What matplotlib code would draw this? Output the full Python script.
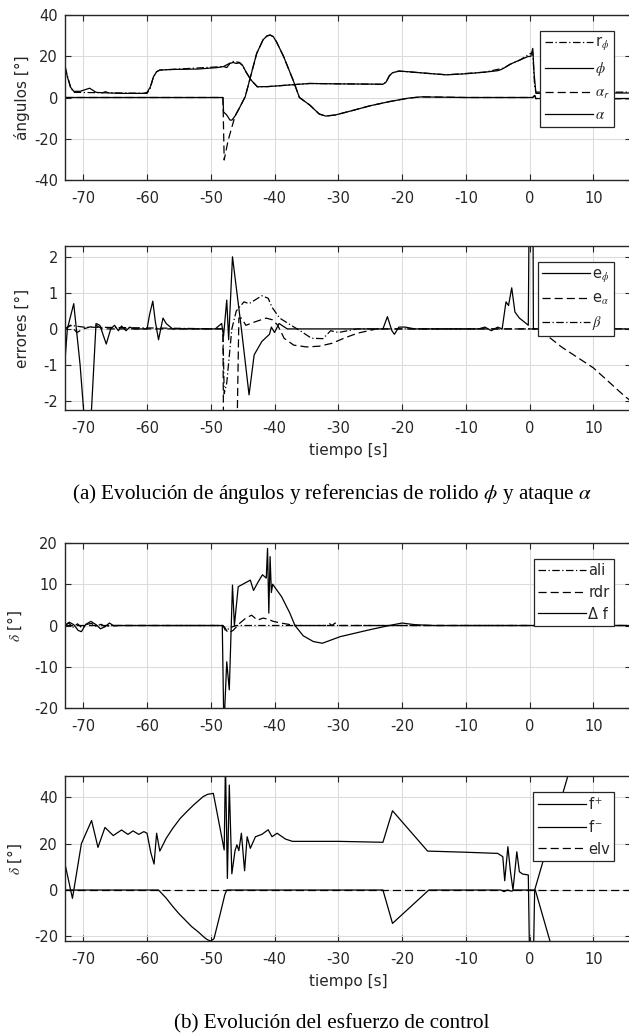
import matplotlib
matplotlib.use("Agg")
import matplotlib.pyplot as plt

plt.rcParams['font.family'] = ['DejaVu Sans']
plt.rcParams['mathtext.fontset'] = 'stix'
plt.rcParams['axes.unicode_minus'] = False

# ---- angles panel ----
t_phi = [-72.9, -72.5, -72, -71.5, -70.5, -69.5, -69, -68.5, -68, -67, -66.5, -66, -64, -60.5, -60, -59.5, -59,
         -58.5, -58, -56, -52, -49, -48, -47.5, -47, -46.5, -46, -45.5, -45, -44.5, -43.7, -42.7, -41, -38, -34.5,
         -30, -25, -23, -22.5, -22, -21.5, -20.5, -19, -16, -13, -10, -7, -5, -4.5, -4, -3, -1.5, -0.3, 0.2, 0.5,
         0.7, 1.0, 15.9]
phi = [16, 10, 5, 3, 3, 4, 4.5, 3.5, 2.5, 2.3, 2.8, 2.2, 2, 2, 2.5, 5, 10,
       12.5, 13.3, 13.6, 13.8, 14.5, 15, 14.5, 16.5, 17, 16.5, 16.8, 15.5, 12.5, 8.5, 5.2, 5.3, 6, 6.8,
       6.6, 6.5, 6.4, 7.5, 10.5, 12, 12.8, 12.5, 11.7, 11, 11.5, 12.3, 13, 13.5, 14.3, 16.2, 18.2, 19.8, 20, 23.8,
       12, 2, 2.2]

t_rphi = [-72.9, -72, -71.5, -60, -59.5, -59, -58.5, -58, -48, -46.5, -45.5, -45, -44.5, -43.7, -42.7, -41, -34.5,
          -23, -22.5, -22, -21.5, -20.5, -16, -13, -7, -4, -3, -1.5, -0.3, 0.5, 0.8, 1.0, 15.9]
r_phi = [15, 5, 2.5, 2, 4.5, 10, 12.5, 13.3, 15, 17.5, 17, 15.5, 12.5, 8.5, 5.2, 5.3, 6.8,
         6.4, 7.5, 10.5, 12, 12.8, 11.7, 11, 12.3, 14.3, 16.2, 18.2, 20.5, 22, 5, 2.6, 2.6]

t_alpha = [-72.9, -48.1, -48.0, -47.5, -47, -46.7, -46.2, -45.5, -44.6, -43.7, -42.8, -41.8, -41.2, -40.7, -40.2,
           -39.7, -38.6, -37.1, -36.1, -34.5, -33, -32, -30.5, -28, -25, -22, -19, -17, -10, 0.5, 0.8, 1.0, 15.9]
alpha = [0, 0, -7, -8.5, -10.9, -11, -9, -5, 0.4, 10.9, 21.4, 28, 29.8, 30.3, 29.5,
         27, 20, 8.5, 0, -3.6, -8, -9, -8.5, -6.5, -4, -2, -0.3, 0.3, 0, 0, 1, -0.5, -0.5]

t_alpha_r = [-72.9, -48.1, -47.9, -47.3, -46.2, -45.5, -44.6, -43.7, -42.8, -41.8, -41.2, -40.7, -40.2, -39.7,
             -38.6, -37.1, -36.1, -34.5, -33, -32, -30.5, -28, -25, -22, -19, -17, -10, 0.5, 0.8, 1.0, 15.9]
alpha_r = [0, 0, -30.3, -21, -9, -5, 0.4, 10.9, 21.4, 28, 29.8, 30.3, 29.5, 27,
           20, 8.5, 0, -3.6, -8, -9, -8.5, -6.5, -4, -2, -0.3, 0.3, 0, 0, 1, -0.6, -0.6]

# ---- errors panel ----
t_ephi = [-72.9, -72.5, -71.5, -70.5, -69.8, -69, -68.7, -68, -67.4, -66.4, -65.7, -65.1, -64.5, -64, -63.3, -62.7,
          -62, -60, -59.6, -59.1, -58.7, -58.2, -57.5, -57, -56, -49.3, -48.3, -48.0, -47.5, -47.2, -46.6, -45.2,
          -44.0, -43.2, -42, -40.8, -40.5, -40, -39.3, -38, -23, -22.3, -21.6, -21.2, -20.5, -19.5, -18, -8, -7,
          -6, -5, -4.3, -3.7, -3.3, -2.8, -2.3, -1.6, -0.6, -0.2, 0.0, 0.5, 0.6, 15.9]
e_phi = [-0.95, 0, 0.7, -1.0, -2.6, -2.6, -2.2, 0.15, 0.1, -0.42, 0, 0.1, -0.05, 0.08, -0.05, 0.05,
         0, 0, 0.4, 0.77, 0.2, -0.3, 0.3, 0.15, 0, 0, 0.15, -0.2, 0.8, -0.3, 2.0, 0,
         -1.83, -0.72, -0.35, -0.15, 0.05, -0.1, 0.15, 0, 0, 0.34, -0.05, -0.15, 0.05, 0.05, 0, 0, 0.05,
         -0.05, 0.05, 0, 0.75, 0.65, 1.14, 0.47, 0.3, 0.16, 0.1, 5, 5, 0, 0]

t_ealpha = [-72.9, -72, -71, -70, -68, -67, -48.1, -48.0, -45.9, -45.6, -45.2, -44.5, -43, -41.3, -40.3, -39.5,
            -38.5, -37, -35, -33, -31, -29, -27, -24, 1.0, 3, 5, 10, 15, 15.9]
e_alpha = [0, 0.1, -0.1, 0, 0.1, 0, 0, -3, -3, 0.3, 0.3, 0.1, 0.2, 0.3, 0.25, 0.1,
           -0.26, -0.45, -0.5, -0.48, -0.4, -0.25, -0.12, 0, 0, -0.22, -0.5, -1.08, -1.88, -2.0]

t_beta = [-72.9, -72, -70, -48.1, -47.9, -47.5, -46.7, -46, -44.8, -44, -42, -41, -40.4, -39.2, -37.4, -36,
          -34.2, -32.4, -31.2, -30, -27, 15.9]
beta = [0, 0.1, 0.05, 0, -1.8, -1.5, 0, 0.5, 0.75, 0.7, 0.92, 0.85, 0.6, 0.3, 0.1, -0.05,
        -0.26, -0.27, -0.05, -0.1, 0, 0]

# ---- control surfaces ----
t_df = [-72.9, -72.2, -71.5, -70.8, -70.3, -69.6, -68.8, -68.0, -67.3, -66.6, -65.9, -65.2, -64.5, -48.2, -47.95,
        -47.5, -47.1, -46.6, -46.3, -45.7, -44.4, -43.8, -43.3, -42.6, -41.9, -41.3, -41.1, -40.9, -40.7, -40.5,
        -40.3, -38.9, -37.6, -36.8, -35.5, -33.9, -32.5, -29.7, -25, -22, -20, -18, -15, 15.9]
delta_f = [0, 0.8, 0.2, -1.2, -1.5, 0.3, 1.0, 0.2, -0.8, -0.3, 0.6, -0.1, 0, 0, -25,
           -8.8, -15.6, 9.8, 0, 9.4, 10.5, 11, 8.5, 10.5, 12.3, 11.5, 18.7, 3, 16.7, 8,
           10, 7, 3, 0, -2.5, -3.9, -4.3, -2.7, -1, 0, 0.6, 0.2, 0, 0]

t_rdr = [-72.9, -48.1, -47.8, -47.3, -46.5, -45.5, -44.5, -43.6, -42.7, -41.8, -41.0, -40.2, -39.0, -37.5, -36.5,
         -32, -31.5, -31, -30.5, -30, -29.5, 15.9]
rdr = [0, 0, -0.5, -1.8, -1.2, 0.5, 1.8, 2.5, 1.3, 1.8, 1.5, 1.0, 0.6, 0.2, 0,
       0, 0.6, 0, 0.6, 0, 0, 0]

t_ali = [-72.9, -72.3, -71.6, -70.9, -70.2, -69.4, -68.7, -68, -67.2, -66.5, -65.8, -48.1, -47.7, -47.2, -46.6,
         -46, 15.9]
ali = [0, 0.6, -0.4, 0.4, -0.6, 0.3, 0.5, -0.2, 0.3, -0.4, 0, 0, -1.2, -0.8, -0.3, 0, 0]

# ---- control effort ----
t_fp = [-72.9, -72.85, -71.7, -70.3, -68.7, -67.7, -66.6, -65.3, -64.0, -63.0, -62.2, -61.3, -60.5, -60.0, -59.4,
        -58.9, -58.5, -58.0, -57.0, -56.0, -54.8, -53.7, -52.7, -51.2, -50.5, -49.6, -47.9, -47.7, -47.4, -47.1,
        -46.7, -46.2, -45.9, -45.6, -45.2, -44.7, -44.3, -43.8, -43.0, -42.0, -41.0, -40.4, -39.6, -38.3, -37.2,
        -30, -23.0, -21.5, -16.0, -10, -5, -4.2, -3.9, -3.4, -3.0, -2.6, -2.0, -1.6, -1.1, -0.2, 0.0, 0.6, 0.8, 6.3]
f_plus = [23, 11, -3.6, 20, 30, 18.4, 27, 23.5, 25.9, 24, 25.5, 24, 25.2, 24.5, 16,
          11.2, 24.5, 16.8, 22.3, 26.5, 30.9, 34, 36.7, 40.3, 41.3, 41.7, 17.3, 55, 5, 45.3,
          7, 17, 19.5, 17, 24.5, 8.3, 23, 18, 23, 24, 26, 23, 24.5, 22, 21,
          21, 20.6, 34.2, 16.8, 16.3, 15.8, 14.4, 4, 18.7, 8, 0, 16.5, 7.9, 6.9, 6.5, -30, -30, 0, 52]

t_fm = [-72.9, -58.2, -57, -56, -55, -54, -53, -52, -51, -50.5, -50, -49.5, -48.5, -47.8, -47.5, -23, -21.5,
        -15.8, -4.5, -4, -3.5, -2.8, -2.4, 0.9, 3.3, 15.9]
f_minus = [0, 0, -3.5, -7, -10.2, -13, -15.8, -18, -20.5, -21.5, -22, -21, -10, -2, 0, 0, -14.4,
           0, 0, -0.7, 0, -0.5, 0, 0, -23, -150]

t_elv = [-72.9, 15.9]
elv = [0, 0]

xticks = [-70, -60, -50, -40, -30, -20, -10, 0, 10]

dash = (0, (6.5, 3.2))
dashdot = (0, (6, 2, 1, 2))
gray = '#262626'

fig = plt.figure(figsize=(6.29, 10.34), dpi=100)


def panel(bottom_px, top_px, ylim, yticks, ylabel, label_x):
    ax = fig.add_axes([65 / 629, 1 - bottom_px / 1034, 566 / 629, (bottom_px - top_px) / 1034])
    ax.set_xlim(-72.87, 15.91)
    ax.set_ylim(*ylim)
    ax.set_xticks(xticks)
    ax.set_yticks(yticks)
    ax.grid(True, color='#dcdcdc', lw=0.8)
    ax.set_axisbelow(True)
    ax.tick_params(direction='in', top=True, right=True, labelsize=10.5, colors=gray,
                   length=4, width=0.8)
    ax.tick_params(axis='x', pad=8)
    ax.tick_params(axis='y', pad=5)
    for s in ax.spines.values():
        s.set_color(gray)
        s.set_linewidth(1.0)
    ax.set_ylabel(ylabel, fontsize=11, color=gray)
    ax.yaxis.set_label_coords(label_x, 0.5)
    return ax


def legend(ax):
    leg = ax.legend(loc='upper right', bbox_to_anchor=(0.970, 0.903), fontsize=10.5, handlelength=3.3,
                    handletextpad=0.15, borderpad=0.3, labelspacing=0.45, borderaxespad=0,
                    fancybox=False, framealpha=1, edgecolor=gray)
    leg.get_frame().set_linewidth(0.9)
    for txt in leg.get_texts():
        txt.set_color(gray)


lw = 0.9

ax1 = panel(180, 15, (-40, 40), [-40, -20, 0, 20, 40], 'ángulos [°]', -0.062)
ax1.plot(t_rphi, r_phi, color='k', lw=lw, ls=dashdot, label=r'r$_\phi$')
ax1.plot(t_phi, phi, color='k', lw=lw, label=r'$\phi$')
ax1.plot(t_alpha_r, alpha_r, color='k', lw=lw, ls=dash, label=r'$\alpha_\mathsf{r}$')
ax1.plot(t_alpha, alpha, color='k', lw=lw, label=r'$\alpha$')
legend(ax1)

ax2 = panel(410, 246, (-2.25, 2.3), [-2, -1, 0, 1, 2], 'errores [°]', -0.062)
ax2.plot(t_ephi, e_phi, color='k', lw=lw, label=r'e$_\phi$')
ax2.plot(t_ealpha, e_alpha, color='k', lw=lw, ls=dash, label=r'e$_\alpha$')
ax2.plot(t_beta, beta, color='k', lw=lw, ls=dashdot, label=r'$\beta$')
ax2.set_xlabel('tiempo [s]', fontsize=11, color=gray, labelpad=5)
legend(ax2)

ax3 = panel(708, 543, (-20, 20), [-20, -10, 0, 10, 20], r'$\delta$ [°]', -0.072)
ax3.plot(t_ali, ali, color='k', lw=lw, ls=dashdot, label='ali')
ax3.plot(t_rdr, rdr, color='k', lw=lw, ls=dash, label='rdr')
ax3.plot(t_df, delta_f, color='k', lw=lw, label='Δ f')
legend(ax3)

ax4 = panel(941, 776, (-22, 49.2), [-20, 0, 20, 40], r'$\delta$ [°]', -0.072)
ax4.plot(t_fp, f_plus, color='k', lw=lw, label=r'f$^+$')
ax4.plot(t_fm, f_minus, color='k', lw=lw, label=r'f$^-$')
ax4.plot(t_elv, elv, color='k', lw=lw, ls=dash, label='elv')
ax4.set_xlabel('tiempo [s]', fontsize=11, color=gray, labelpad=5)
legend(ax4)

cap = dict(fontsize=15.2, family=['Liberation Serif', 'DejaVu Serif'], ha='center', va='baseline')
fig.text(332 / 629, 1 - 499 / 1034,
         r'(a) Evolución de ángulos y referencias de rolido $\phi$ y ataque $\alpha$', **cap)
fig.text(332 / 629, 1 - 1028 / 1034, '(b) Evolución del esfuerzo de control', **cap)

fig.savefig('out.png', dpi=100)
